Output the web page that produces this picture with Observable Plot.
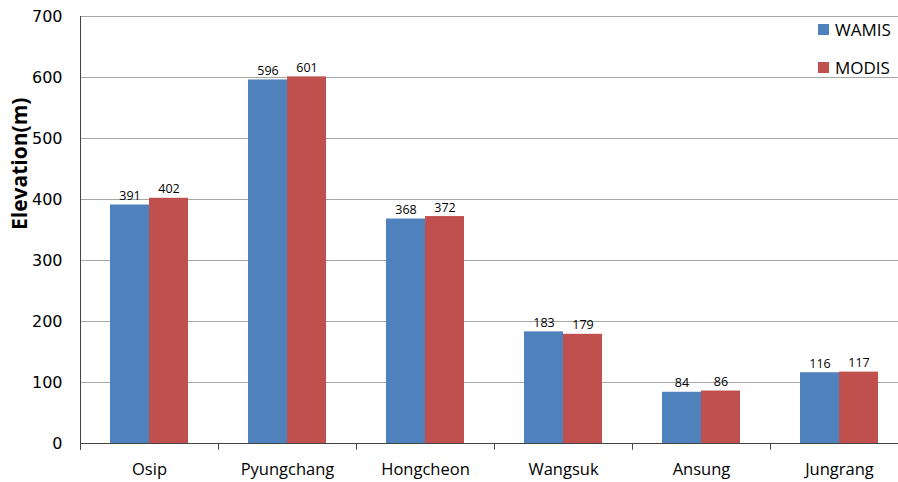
<!DOCTYPE html>
<html><head><meta charset="utf-8">
<script src="https://cdn.jsdelivr.net/npm/d3@7"></script>
<script src="https://cdn.jsdelivr.net/npm/@observablehq/plot@0.6"></script>
<style>
html,body{margin:0;padding:0;background:#fff;overflow:hidden;}
#wrap{position:relative;width:898px;height:482px;}
.leg{position:absolute;left:818px;font-family:"Open Sans",sans-serif;font-size:17px;color:#000;display:flex;align-items:center;}
.leg span.sw{display:inline-block;width:11px;height:11px;margin-right:6px;}
</style></head>
<body><div id="wrap"></div>
<script>
const categories = ["Osip","Pyungchang","Hongcheon","Wangsuk","Ansung","Jungrang"];
const series = ["WAMIS","MODIS"];
const wamis = [391,596,368,183,84,116];
const modis = [402,601,372,179,86,117];
const colors = ["#4F81BD","#C0504D"];
const yTicks = [0,100,200,300,400,500,600,700];
const yLabel = "Elevation(m)";

const rows = categories.map((c,i)=>({cat:c, w:wamis[i], m:modis[i]}));
const W = 898, H = 482;
const half = 39;

const chart = Plot.plot({
  width: W, height: H,
  marginLeft: 80, marginRight: 0, marginTop: 16, marginBottom: 39,
  style: {fontFamily: "'Open Sans', sans-serif", background: "#fff"},
  x: {domain: categories, range: [80, 908], paddingInner: 0.435, paddingOuter: 0.2175, axis: null},
  y: {domain: [0,700], axis: null},
  marks: [
    Plot.ruleY(yTicks.slice(1), {stroke: "#a6a6a6", strokeWidth: 1}),
    Plot.ruleY(yTicks, {x1: categories[0], x2: categories[0], dx: -69, insetLeft: -6, stroke: "#777"}),
    Plot.barY(rows, {x: "cat", y: "w", fill: colors[0], insetRight: half}),
    Plot.barY(rows, {x: "cat", y: "m", fill: colors[1], insetLeft: half}),
    Plot.text(rows, {x: "cat", y: "w", text: d=>String(d.w), dx: -half/2, dy: -5, lineAnchor: "bottom", fontSize: 12.5, fill: "#000"}),
    Plot.text(rows, {x: "cat", y: "m", text: d=>String(d.m), dx: half/2, dy: -5, lineAnchor: "bottom", fontSize: 12.5, fill: "#000"}),
    Plot.ruleY([0], {stroke: "#444", strokeWidth: 1}),
    Plot.ruleX([categories[0]], {dx: -69, y1: -11, y2: 700, stroke: "#444"}),
    Plot.ruleX(categories, {dx: -69, y1: 0, y2: -11, stroke: "#444"}),
    Plot.text(yTicks, {y: d=>d, frameAnchor: "left", dx: -18, textAnchor: "end", text: d=>String(d), fontSize: 16, fontFamily: "'DejaVu Sans', sans-serif", fill: "#000"}),
    Plot.text(categories, {x: d=>d, y: 0, dy: 26, text: d=>d, fontSize: 16.5, fill: "#000"}),
    Plot.text([yLabel], {frameAnchor: "left", rotate: -90, dx: -60, text: d=>d, fontSize: 21, fontWeight: "bold", fill: "#000"})
  ]
});
const wrap = document.getElementById("wrap");
wrap.appendChild(chart);
const tops = [30, 68];
series.forEach((s,i)=>{
  const d = document.createElement("div");
  d.className = "leg";
  d.style.top = (tops[i]-12) + "px";
  d.innerHTML = `<span class="sw" style="background:${colors[i]}"></span>${s}`;
  wrap.appendChild(d);
});
</script></body></html>
